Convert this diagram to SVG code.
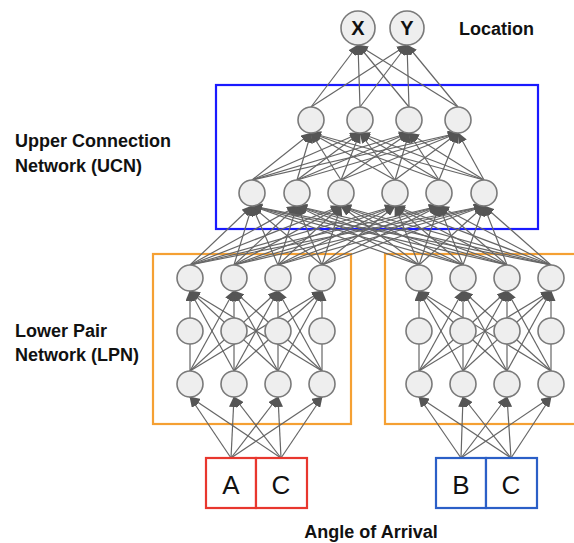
<svg xmlns="http://www.w3.org/2000/svg" width="574" height="543" viewBox="0 0 574 543">
<defs>
<marker id="ah" markerUnits="userSpaceOnUse" markerWidth="11" markerHeight="9" refX="10" refY="4.5" orient="auto">
<path d="M0,0 L11,4.5 L0,9 z" fill="#555"/>
</marker>
<style>
.lbl{font-family:"Liberation Sans",Arial,sans-serif;font-weight:bold;font-size:18px;fill:#111}
.xy{font-family:"Liberation Sans",Arial,sans-serif;font-weight:bold;font-size:20px;fill:#111;text-anchor:middle}
.io{font-family:"Liberation Sans",Arial,sans-serif;font-size:26px;fill:#111;text-anchor:middle}
.n{fill:#eeeeee;stroke:#7a7a7a;stroke-width:1.6}
#connectors line{stroke:#666;stroke-width:1.2;marker-end:url(#ah)}
</style>
</defs>
<rect width="574" height="543" fill="#fff"/>

<g id="boxes" fill="none" stroke-width="2.2">
<rect x="216" y="85" width="322" height="144" stroke="#1a1aff"/>
<rect x="153" y="254" width="198" height="170" stroke="#f5a033"/>
<rect x="385" y="254" width="205" height="170" stroke="#f5a033"/>
</g>

<g id="connectors">
<line x1="231" y1="458" x2="190" y2="397"/><line x1="231" y1="458" x2="234" y2="397"/><line x1="231" y1="458" x2="278" y2="397"/><line x1="231" y1="458" x2="322" y2="397"/>
<line x1="281" y1="458" x2="190" y2="397"/><line x1="281" y1="458" x2="234" y2="397"/><line x1="281" y1="458" x2="278" y2="397"/><line x1="281" y1="458" x2="322" y2="397"/>
<line x1="461" y1="458" x2="419" y2="397"/><line x1="461" y1="458" x2="463" y2="397"/><line x1="461" y1="458" x2="507" y2="397"/><line x1="461" y1="458" x2="551" y2="397"/>
<line x1="511" y1="458" x2="419" y2="397"/><line x1="511" y1="458" x2="463" y2="397"/><line x1="511" y1="458" x2="507" y2="397"/><line x1="511" y1="458" x2="551" y2="397"/>
<line x1="190" y1="371" x2="190" y2="291"/><line x1="190" y1="371" x2="234" y2="291"/><line x1="190" y1="371" x2="278" y2="291"/><line x1="190" y1="371" x2="322" y2="291"/>
<line x1="234" y1="371" x2="190" y2="291"/><line x1="234" y1="371" x2="234" y2="291"/><line x1="234" y1="371" x2="278" y2="291"/><line x1="234" y1="371" x2="322" y2="291"/>
<line x1="278" y1="371" x2="190" y2="291"/><line x1="278" y1="371" x2="234" y2="291"/><line x1="278" y1="371" x2="278" y2="291"/><line x1="278" y1="371" x2="322" y2="291"/>
<line x1="322" y1="371" x2="190" y2="291"/><line x1="322" y1="371" x2="234" y2="291"/><line x1="322" y1="371" x2="278" y2="291"/><line x1="322" y1="371" x2="322" y2="291"/>
<line x1="419" y1="371" x2="419" y2="291"/><line x1="419" y1="371" x2="463" y2="291"/><line x1="419" y1="371" x2="507" y2="291"/><line x1="419" y1="371" x2="551" y2="291"/>
<line x1="463" y1="371" x2="419" y2="291"/><line x1="463" y1="371" x2="463" y2="291"/><line x1="463" y1="371" x2="507" y2="291"/><line x1="463" y1="371" x2="551" y2="291"/>
<line x1="507" y1="371" x2="419" y2="291"/><line x1="507" y1="371" x2="463" y2="291"/><line x1="507" y1="371" x2="507" y2="291"/><line x1="507" y1="371" x2="551" y2="291"/>
<line x1="551" y1="371" x2="419" y2="291"/><line x1="551" y1="371" x2="463" y2="291"/><line x1="551" y1="371" x2="507" y2="291"/><line x1="551" y1="371" x2="551" y2="291"/>
<line x1="190" y1="265" x2="252" y2="206"/><line x1="190" y1="265" x2="297" y2="206"/><line x1="190" y1="265" x2="341" y2="206"/><line x1="190" y1="265" x2="395" y2="206"/><line x1="190" y1="265" x2="439" y2="206"/><line x1="190" y1="265" x2="484" y2="206"/>
<line x1="234" y1="265" x2="252" y2="206"/><line x1="234" y1="265" x2="297" y2="206"/><line x1="234" y1="265" x2="341" y2="206"/><line x1="234" y1="265" x2="395" y2="206"/><line x1="234" y1="265" x2="439" y2="206"/><line x1="234" y1="265" x2="484" y2="206"/>
<line x1="278" y1="265" x2="252" y2="206"/><line x1="278" y1="265" x2="297" y2="206"/><line x1="278" y1="265" x2="341" y2="206"/><line x1="278" y1="265" x2="395" y2="206"/><line x1="278" y1="265" x2="439" y2="206"/><line x1="278" y1="265" x2="484" y2="206"/>
<line x1="322" y1="265" x2="252" y2="206"/><line x1="322" y1="265" x2="297" y2="206"/><line x1="322" y1="265" x2="341" y2="206"/><line x1="322" y1="265" x2="395" y2="206"/><line x1="322" y1="265" x2="439" y2="206"/><line x1="322" y1="265" x2="484" y2="206"/>
<line x1="419" y1="265" x2="252" y2="206"/><line x1="419" y1="265" x2="297" y2="206"/><line x1="419" y1="265" x2="341" y2="206"/><line x1="419" y1="265" x2="395" y2="206"/><line x1="419" y1="265" x2="439" y2="206"/><line x1="419" y1="265" x2="484" y2="206"/>
<line x1="463" y1="265" x2="252" y2="206"/><line x1="463" y1="265" x2="297" y2="206"/><line x1="463" y1="265" x2="341" y2="206"/><line x1="463" y1="265" x2="395" y2="206"/><line x1="463" y1="265" x2="439" y2="206"/><line x1="463" y1="265" x2="484" y2="206"/>
<line x1="507" y1="265" x2="252" y2="206"/><line x1="507" y1="265" x2="297" y2="206"/><line x1="507" y1="265" x2="341" y2="206"/><line x1="507" y1="265" x2="395" y2="206"/><line x1="507" y1="265" x2="439" y2="206"/><line x1="507" y1="265" x2="484" y2="206"/>
<line x1="551" y1="265" x2="252" y2="206"/><line x1="551" y1="265" x2="297" y2="206"/><line x1="551" y1="265" x2="341" y2="206"/><line x1="551" y1="265" x2="395" y2="206"/><line x1="551" y1="265" x2="439" y2="206"/><line x1="551" y1="265" x2="484" y2="206"/>
<line x1="252" y1="180" x2="311" y2="133"/><line x1="252" y1="180" x2="360" y2="133"/><line x1="252" y1="180" x2="409" y2="133"/><line x1="252" y1="180" x2="458" y2="133"/>
<line x1="297" y1="180" x2="311" y2="133"/><line x1="297" y1="180" x2="360" y2="133"/><line x1="297" y1="180" x2="409" y2="133"/><line x1="297" y1="180" x2="458" y2="133"/>
<line x1="341" y1="180" x2="311" y2="133"/><line x1="341" y1="180" x2="360" y2="133"/><line x1="341" y1="180" x2="409" y2="133"/><line x1="341" y1="180" x2="458" y2="133"/>
<line x1="395" y1="180" x2="311" y2="133"/><line x1="395" y1="180" x2="360" y2="133"/><line x1="395" y1="180" x2="409" y2="133"/><line x1="395" y1="180" x2="458" y2="133"/>
<line x1="439" y1="180" x2="311" y2="133"/><line x1="439" y1="180" x2="360" y2="133"/><line x1="439" y1="180" x2="409" y2="133"/><line x1="439" y1="180" x2="458" y2="133"/>
<line x1="484" y1="180" x2="311" y2="133"/><line x1="484" y1="180" x2="360" y2="133"/><line x1="484" y1="180" x2="409" y2="133"/><line x1="484" y1="180" x2="458" y2="133"/>
<line x1="311" y1="107" x2="358" y2="45"/><line x1="360" y1="107" x2="358" y2="45"/><line x1="409" y1="107" x2="358" y2="45"/><line x1="458" y1="107" x2="358" y2="45"/>
<line x1="311" y1="107" x2="407" y2="45"/><line x1="360" y1="107" x2="407" y2="45"/><line x1="409" y1="107" x2="407" y2="45"/><line x1="458" y1="107" x2="407" y2="45"/>
</g>

<g id="node-X"><circle class="n" cx="358" cy="28" r="17"/><text x="358" y="35" class="xy">X</text></g>
<g id="node-Y"><circle class="n" cx="407" cy="28" r="17"/><text x="407" y="35" class="xy">Y</text></g>

<g id="ucn-upper">
<circle class="n" cx="311" cy="120" r="13"/><circle class="n" cx="360" cy="120" r="13"/><circle class="n" cx="409" cy="120" r="13"/><circle class="n" cx="458" cy="120" r="13"/>
</g>
<g id="ucn-lower">
<circle class="n" cx="252" cy="193" r="13"/><circle class="n" cx="297" cy="193" r="13"/><circle class="n" cx="341" cy="193" r="13"/><circle class="n" cx="395" cy="193" r="13"/><circle class="n" cx="439" cy="193" r="13"/><circle class="n" cx="484" cy="193" r="13"/>
</g>
<g id="lpn-left">
<circle class="n" cx="190" cy="278" r="13"/><circle class="n" cx="234" cy="278" r="13"/><circle class="n" cx="278" cy="278" r="13"/><circle class="n" cx="322" cy="278" r="13"/>
<circle class="n" cx="190" cy="331" r="13"/><circle class="n" cx="234" cy="331" r="13"/><circle class="n" cx="278" cy="331" r="13"/><circle class="n" cx="322" cy="331" r="13"/>
<circle class="n" cx="190" cy="384" r="13"/><circle class="n" cx="234" cy="384" r="13"/><circle class="n" cx="278" cy="384" r="13"/><circle class="n" cx="322" cy="384" r="13"/>
</g>
<g id="lpn-right">
<circle class="n" cx="419" cy="278" r="13"/><circle class="n" cx="463" cy="278" r="13"/><circle class="n" cx="507" cy="278" r="13"/><circle class="n" cx="551" cy="278" r="13"/>
<circle class="n" cx="419" cy="331" r="13"/><circle class="n" cx="463" cy="331" r="13"/><circle class="n" cx="507" cy="331" r="13"/><circle class="n" cx="551" cy="331" r="13"/>
<circle class="n" cx="419" cy="384" r="13"/><circle class="n" cx="463" cy="384" r="13"/><circle class="n" cx="507" cy="384" r="13"/><circle class="n" cx="551" cy="384" r="13"/>
</g>

<g id="input-A"><rect x="206" y="458" width="50" height="50" fill="#fff" stroke="#e8372e" stroke-width="2.2"/><text x="231" y="494" class="io">A</text></g>
<g id="input-C1"><rect x="256" y="458" width="51" height="50" fill="#fff" stroke="#e8372e" stroke-width="2.2"/><text x="281" y="494" class="io">C</text></g>
<g id="input-B"><rect x="436" y="458" width="50" height="50" fill="#fff" stroke="#2b5fc7" stroke-width="2.2"/><text x="461" y="494" class="io">B</text></g>
<g id="input-C2"><rect x="486" y="458" width="51" height="50" fill="#fff" stroke="#2b5fc7" stroke-width="2.2"/><text x="511" y="494" class="io">C</text></g>

<g id="labels">
<text x="459" y="35" class="lbl">Location</text>
<text x="15" y="147" class="lbl">Upper Connection</text>
<text x="15" y="172" class="lbl">Network (UCN)</text>
<text x="15" y="337" class="lbl">Lower Pair</text>
<text x="15" y="361" class="lbl">Network (LPN)</text>
<text x="371" y="538" class="lbl" text-anchor="middle">Angle of Arrival</text>
</g>
</svg>
